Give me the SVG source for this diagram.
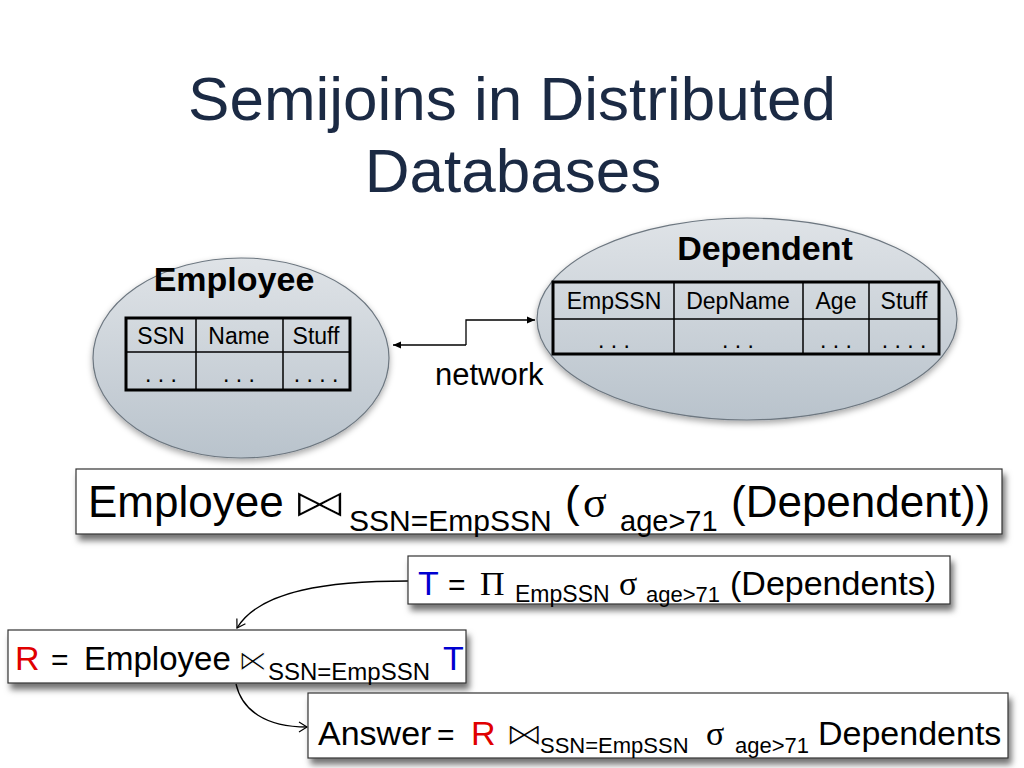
<svg xmlns="http://www.w3.org/2000/svg" width="1024" height="768" viewBox="0 0 1024 768">
<style>
.t{font-family:"Liberation Sans",Arial,sans-serif;fill:#000}
.s{font-family:"Liberation Serif","DejaVu Serif",serif;fill:#000}
.sym{font-family:"DejaVu Sans",sans-serif;fill:#000;stroke:#fff}
.title{font-family:"Liberation Sans",Arial,sans-serif;font-size:62px;fill:#1b2a44;text-anchor:middle}
.ell{fill:url(#eg);stroke:#6d7780;stroke-width:1.2}
.tb{fill:none;stroke:#000;stroke-width:3}
.tl{stroke:#000;stroke-width:1.5}
.box{fill:#fff;stroke:#333;stroke-width:1.2;filter:url(#sh)}
.con{fill:none;stroke:#000;stroke-width:1.3}
.red{fill:#e00000}
.blue{fill:#0000d0}
</style>
<defs>
<linearGradient id="eg" x1="0" y1="0" x2="0" y2="1">
<stop offset="0" stop-color="#dfe3e7"/>
<stop offset="1" stop-color="#b9c3cc"/>
</linearGradient>
<filter id="sh" x="-5%" y="-20%" width="110%" height="160%">
<feDropShadow dx="3" dy="6" stdDeviation="3" flood-color="#000" flood-opacity="0.55"/>
</filter>
<filter id="esh" x="-10%" y="-10%" width="120%" height="130%">
<feDropShadow dx="0" dy="3" stdDeviation="3" flood-color="#000" flood-opacity="0.35"/>
</filter>
<marker id="ah" markerWidth="10" markerHeight="10" refX="9" refY="5" orient="auto" markerUnits="userSpaceOnUse">
<path d="M1,1.5 L9,5 L1,8.5 Z" fill="#000"/>
</marker>
<marker id="oa" markerWidth="12" markerHeight="12" refX="10" refY="6" orient="auto" markerUnits="userSpaceOnUse">
<path d="M2,1 L10,6 L2,11" fill="none" stroke="#000" stroke-width="1.2"/>
</marker>
</defs>
<rect width="1024" height="768" fill="#fff"/>
<g id="title">
<text class="title" x="512" y="120">Semijoins in Distributed</text>
<text class="title" x="513" y="192">Databases</text>
</g>
<g id="employee">
<ellipse class="ell" cx="241" cy="358" rx="148" ry="100" filter="url(#esh)"/>
<text class="t" x="234" y="291" font-size="34" font-weight="bold" text-anchor="middle">Employee</text>
<rect class="tb" x="126" y="318" width="224" height="72"/>
<line class="tl" x1="126" y1="352" x2="350" y2="352"/>
<line class="tl" x1="196" y1="318" x2="196" y2="390"/>
<line class="tl" x1="283" y1="318" x2="283" y2="390"/>
<g class="t" font-size="23" text-anchor="middle">
<text x="161" y="344">SSN</text>
<text x="239" y="344">Name</text>
<text x="316" y="344">Stuff</text>
<text x="161" y="382">. . .</text>
<text x="239" y="382">. . .</text>
<text x="316" y="382">. . . .</text>
</g>
</g>
<g id="dependent">
<ellipse class="ell" cx="747" cy="319" rx="210" ry="101" filter="url(#esh)"/>
<text class="t" x="765" y="260" font-size="34" font-weight="bold" text-anchor="middle">Dependent</text>
<rect class="tb" x="553" y="282" width="386" height="72"/>
<line class="tl" x1="553" y1="319" x2="939" y2="319"/>
<line class="tl" x1="674" y1="282" x2="674" y2="354"/>
<line class="tl" x1="803" y1="282" x2="803" y2="354"/>
<line class="tl" x1="869" y1="282" x2="869" y2="354"/>
<g class="t" font-size="23" text-anchor="middle">
<text x="614" y="309">EmpSSN</text>
<text x="738" y="309">DepName</text>
<text x="836" y="309">Age</text>
<text x="904" y="309">Stuff</text>
<text x="614" y="348">. . .</text>
<text x="738" y="348">. . .</text>
<text x="836" y="348">. . .</text>
<text x="904" y="348">. . . .</text>
</g>
</g>
<g id="connectors">
<polyline class="con" points="466,345 466,320 535,320" marker-end="url(#ah)"/>
<polyline class="con" points="466,345 393,345" marker-end="url(#ah)"/>
<path class="con" d="M408,581 C330,581 260,590 237,628" marker-end="url(#oa)"/>
<path class="con" d="M236,684 C242,710 265,727 307,727" marker-end="url(#oa)"/>
</g>
<text id="network" class="t" x="435" y="385" font-size="31">network</text>
<g id="formula">
<rect class="box" x="76" y="469" width="926" height="65"/>
<text class="t" x="88" y="517" font-size="44">Employee</text>
<text class="sym" x="0" y="517" font-size="40" stroke-width="1.6" transform="translate(291,0) scale(1.45,1)">⋈</text>
<text class="t" x="349" y="531" font-size="30">SSN=EmpSSN</text>
<text class="t" x="565" y="517" font-size="44">(</text>
<text class="s" x="583" y="517" font-size="44">σ</text>
<text class="t" x="620" y="531" font-size="29">age&gt;71</text>
<text class="t" x="731" y="517" font-size="44">(Dependent))</text>
</g>
<g id="tbox">
<rect class="box" x="408" y="556" width="542" height="48"/>
<text class="t blue" x="418" y="595" font-size="34">T</text>
<text class="t" x="448" y="595" font-size="30">=</text>
<text class="s" x="480" y="595" font-size="34">Π</text>
<text class="t" x="515" y="602" font-size="23">EmpSSN</text>
<text class="s" x="619" y="595" font-size="34">σ</text>
<text class="t" x="646" y="602" font-size="22">age&gt;71</text>
<text class="t" x="730" y="595" font-size="34">(Dependents)</text>
</g>
<g id="rbox">
<rect class="box" x="8" y="630" width="458" height="53"/>
<text class="t red" x="15" y="670" font-size="34">R</text>
<text class="t" x="51" y="670" font-size="30">=</text>
<text class="t" x="84" y="670" font-size="33">Employee</text>
<text class="sym" x="0" y="670" font-size="28" stroke-width="0.9" transform="translate(238,0) scale(1.05,1)">⋉</text>
<text class="t" x="268" y="680" font-size="24">SSN=EmpSSN</text>
<text class="t blue" x="443" y="670" font-size="34">T</text>
</g>
<g id="answer">
<rect class="box" x="308" y="693" width="700" height="65"/>
<text class="t" x="318" y="745" font-size="34">Answer</text>
<text class="t" x="437" y="745" font-size="30">=</text>
<text class="t red" x="471" y="745" font-size="34">R</text>
<text class="sym" x="0" y="745" font-size="32" stroke-width="1.1" transform="translate(505,0) scale(1.2,1)">⋈</text>
<text class="t" x="540" y="753" font-size="22">SSN=EmpSSN</text>
<text class="s" x="706" y="745" font-size="34">σ</text>
<text class="t" x="735" y="753" font-size="22">age&gt;71</text>
<text class="t" x="818" y="745" font-size="34">Dependents</text>
</g>
</svg>
